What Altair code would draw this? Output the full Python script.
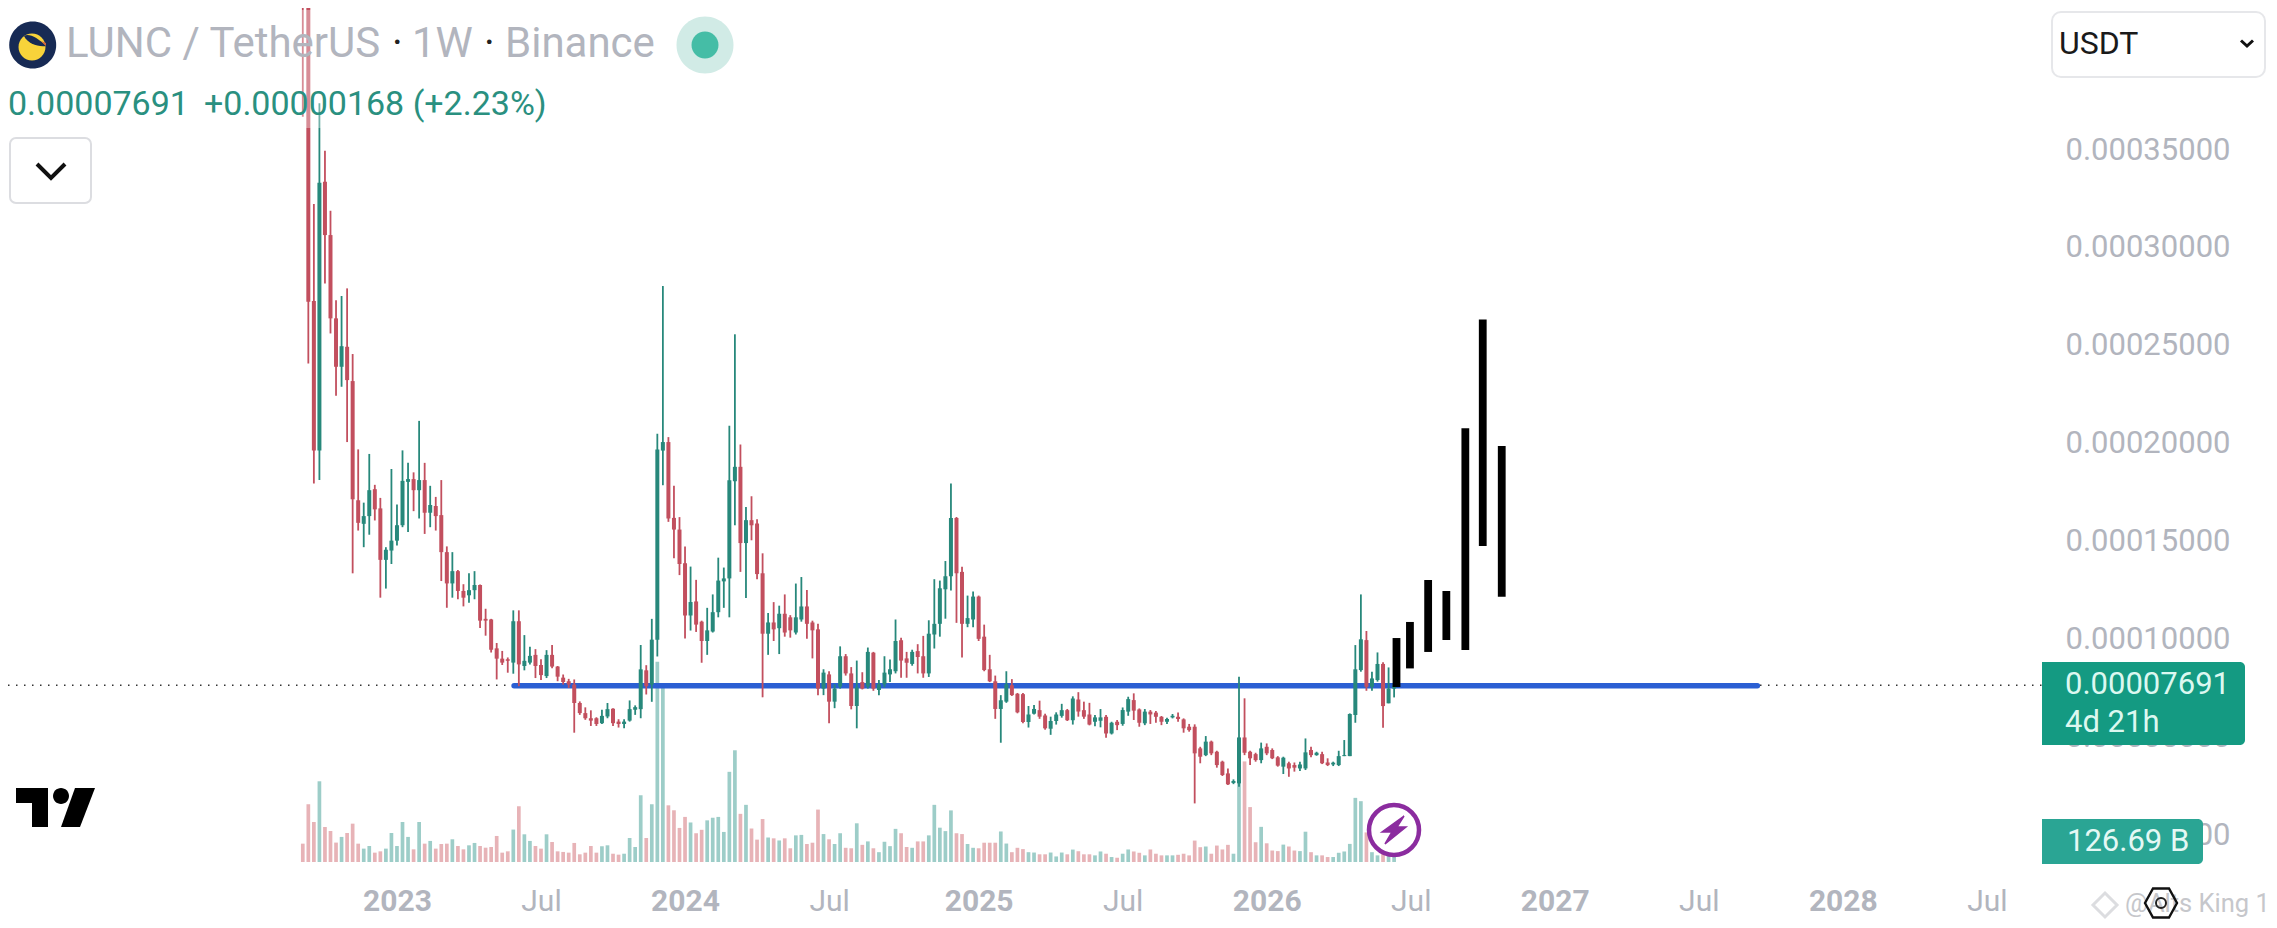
import altair as alt
import pandas as pd

# Prices in units of 0.00001 USDT; volumes in billions.
opens = [48.0,45.0,27.3,19.69,33.38,30.66,26.41,23.94,24.96,23.21,
 17.18,15.99,16.38,17.74,16.77,14.17,14.64,15.14,15.92,18.11,
 18.25,17.69,18.2,16.55,16.89,16.43,14.56,12.98,13.6,12.6,
 12.38,12.64,12.9,11.19,11.16,9.7,9.18,9.15,8.98,11.07,
 8.81,8.98,9.37,8.86,8.3,9.37,8.78,8.22,8.04,7.87,
 6.94,6.43,6.17,6.17,5.92,6.26,6.65,6.0,5.88,6.05,
 6.6,6.63,8.59,7.87,10.14,19.69,20.12,16.29,15.7,14.0,
 11.36,12.07,11.08,10.1,10.58,11.56,13.12,13.27,18.19,18.92,
 15.06,16.22,16.05,13.53,10.47,11.04,10.75,11.48,11.3,10.53,
 11.19,11.85,11.04,10.69,7.69,8.41,7.03,7.8,9.33,8.46,
 6.81,8.02,7.8,9.51,7.62,7.91,8.41,8.57,10.14,9.22,
 8.94,9.59,9.33,8.46,10.43,10.97,12.72,13.38,16.33,13.6,
 10.97,11.19,12.35,10.32,8.67,8.06,6.66,7.03,7.86,7.43,
 7.41,6.0,6.42,6.6,6.33,5.66,6.05,6.31,6.6,6.09,
 7.14,6.6,6.38,5.98,6.03,6.23,5.39,5.98,5.87,6.49,
 7.07,6.6,5.9,6.49,6.44,6.23,5.98,6.2,6.23,6.1,
 5.73,5.73,4.64,4.3,4.98,4.47,3.97,3.38,2.9,2.88,
 5.19,4.47,4.35,4.05,4.72,4.56,4.19,3.72,3.89,3.8,
 3.63,3.63,4.56,4.3,4.35,3.93,3.83,3.8,4.25,4.25,
 6.32,8.58,10.09,7.74,8.08,8.89,6.77,7.52]
closes = [45.0,27.26,19.69,33.33,30.66,26.41,23.94,24.99,23.26,17.23,
 16.04,16.38,17.69,16.72,14.17,14.68,15.14,15.92,18.16,18.25,
 17.69,18.2,16.55,16.94,16.38,14.56,12.98,13.6,12.6,12.26,
 12.64,12.9,11.1,11.1,9.63,9.18,8.98,9.07,11.07,8.89,
 9.07,9.32,8.81,8.35,9.37,8.78,8.27,8.0,7.87,6.94,
 6.43,6.17,6.05,5.88,6.29,6.63,5.92,5.88,6.0,6.63,
 6.73,8.64,7.79,10.14,19.75,20.12,16.26,15.7,13.96,11.36,
 12.04,10.9,10.1,10.64,11.56,13.16,13.27,18.24,18.92,15.06,
 16.22,15.96,13.49,10.47,11.04,10.69,11.48,10.53,10.64,11.3,
 11.85,10.97,10.64,7.69,8.5,7.03,7.69,9.33,8.46,6.81,
 7.75,7.69,9.55,7.69,7.91,8.5,8.67,10.1,9.11,9.0,
 9.55,9.29,8.46,10.47,10.97,12.77,13.38,16.33,13.53,10.97,
 11.26,12.35,10.21,8.63,8.06,6.66,7.1,7.91,7.36,6.49,
 6.0,6.38,6.66,6.27,5.68,6.05,6.38,6.6,6.09,7.19,
 6.53,6.27,5.87,6.2,6.2,5.39,5.93,5.81,6.57,7.12,
 6.54,5.93,6.49,6.35,6.23,5.98,6.12,6.28,6.12,5.65,
 5.56,4.39,4.22,4.98,4.39,3.8,3.3,2.83,3.0,5.19,
 4.42,4.14,4.05,4.64,4.39,4.14,3.77,4.17,3.63,3.67,
 3.83,4.44,4.3,4.42,3.89,3.8,3.92,4.25,4.3,6.37,
 8.62,10.13,7.74,8.16,8.89,6.77,7.52,7.69]
highs = [50.0,50.0,32.24,37.38,34.96,31.9,27.34,27.55,27.94,24.59,
 19.75,17.06,19.52,17.96,17.3,14.81,18.76,16.97,19.7,19.07,
 18.59,21.19,19.07,17.91,17.35,18.2,14.85,14.56,13.66,12.94,
 13.49,13.6,12.93,11.7,11.19,9.97,9.57,9.24,11.62,11.62,
 10.37,9.78,9.66,9.15,9.61,9.87,8.81,8.38,8.16,8.13,
 7.02,6.72,6.57,6.22,6.6,6.94,6.68,6.12,6.12,7.07,
 6.82,9.87,8.85,11.19,20.54,28.06,20.37,17.91,16.33,14.85,
 13.83,13.16,11.13,11.78,12.46,14.32,13.82,21.0,25.63,20.05,
 16.88,17.43,16.27,14.54,11.52,12.07,11.89,12.46,11.41,13.01,
 13.34,12.68,11.13,10.97,8.67,8.57,7.91,9.83,9.44,8.78,
 9.11,8.52,9.77,9.55,8.13,9.33,9.16,11.19,10.27,9.55,
 9.66,9.94,10.36,11.15,13.23,13.16,14.15,18.08,16.38,13.86,
 12.4,12.61,12.4,10.93,9.4,8.35,7.36,8.57,8.17,7.47,
 7.47,6.81,6.86,7.08,6.42,6.27,6.49,6.92,6.66,7.3,
 7.51,7.03,6.97,6.32,6.62,6.32,5.98,6.07,6.7,7.24,
 7.41,6.65,6.62,6.57,6.52,6.27,6.18,6.37,6.45,6.15,
 5.87,5.85,4.72,5.26,5.03,4.52,4.02,3.63,3.08,8.25,
 7.16,4.52,4.42,4.93,4.89,4.64,4.25,4.22,3.97,3.93,
 3.97,5.14,4.72,4.47,4.47,4.14,3.97,4.52,5.06,6.4,
 9.84,12.39,10.55,8.5,9.47,8.97,8.6,8.05]
lows = [36.7,24.11,18.03,18.2,28.19,25.64,22.46,22.92,20.12,13.49,
 15.65,14.81,15.44,16.16,12.26,12.72,13.96,14.9,15.82,15.58,
 16.63,16.26,15.48,15.82,15.65,13.1,11.75,12.26,12.18,11.82,
 12.0,12.18,10.73,10.34,9.49,8.13,8.86,8.47,8.42,7.79,
 8.59,8.89,8.2,8.1,8.2,8.69,8.04,7.87,7.7,5.44,
 6.34,6.09,5.78,5.78,5.88,6.17,5.78,5.7,5.66,6.0,
 6.34,6.17,7.37,7.0,9.29,17.94,16.09,14.25,13.4,10.2,
 10.6,10.53,9.0,9.4,10.53,11.3,11.78,11.3,15.96,13.6,
 12.28,15.2,13.23,7.25,9.4,10.1,9.44,10.32,10.27,10.43,
 11.08,10.21,9.22,7.36,7.36,5.94,6.7,7.69,8.35,6.64,
 5.68,7.65,7.69,7.58,7.36,7.76,8.02,8.46,8.24,8.24,
 8.85,8.46,8.24,8.28,9.72,10.32,11.23,12.66,11.02,9.27,
 10.8,10.8,10.1,8.57,8.02,6.16,4.95,6.97,7.32,6.44,
 5.94,5.72,6.38,6.16,5.61,5.35,5.87,6.22,6.05,5.87,
 6.27,6.16,5.83,5.76,5.7,5.18,5.34,5.56,5.78,6.28,
 6.07,5.73,5.81,5.87,5.93,5.81,5.87,6.15,5.98,5.43,
 5.48,1.87,3.89,4.25,4.3,3.67,3.25,2.8,2.84,2.71,
 4.3,3.8,3.97,3.89,4.3,4.1,3.72,3.35,3.21,3.47,
 3.5,3.55,4.19,4.27,3.85,3.75,3.75,3.75,4.25,4.25,
 5.93,8.5,7.54,7.54,8.0,5.68,6.77,7.07]
volumes = [155,488,338,682,296,262,164,212,245,324,
 155,113,135,79,90,113,245,135,338,212,
 107,338,155,178,113,152,155,192,135,107,
 141,161,135,121,127,220,79,90,274,471,
 234,178,135,113,234,169,90,85,79,161,
 65,79,135,79,133,141,70,62,70,203,
 127,564,203,488,1692,1509,479,437,288,381,
 334,243,272,352,374,381,254,762,944,407,
 483,283,189,363,207,200,182,200,116,225,
 229,152,163,443,236,192,152,243,120,116,
 327,145,174,116,83,171,134,280,243,127,
 120,174,174,225,483,290,261,436,243,236,
 152,120,116,163,163,163,258,156,83,120,
 109,83,80,65,65,80,47,80,65,105,
 91,65,65,56,89,70,42,36,70,106,
 89,78,56,106,70,56,56,56,61,70,
 56,181,125,131,70,139,106,145,70,900,
 850,464,167,297,158,97,92,147,131,97,
 92,256,83,56,56,42,42,78,89,153,
 542,514,250,83,56,180,150,126.69]

# Hand-drawn black bars
drawn_dates = ["2026-06-18","2026-07-05","2026-07-28","2026-08-20","2026-09-13","2026-10-05","2026-10-29"]
drawn_top = [10.1,10.92,13.06,12.5,20.8,26.35,19.9]
drawn_bottom = [7.6,8.55,9.39,10.0,9.49,14.8,12.2]

# Hand-drawn blue support line
support_dates = ["2023-05-30","2027-09-17"]
support_price = [7.67,7.67]

last_price = 7.691
price_ticks = [0,5,10,15,20,25,30,35]
time_ticks = [(2023,1,2),(2023,7,3),(2024,1,1),(2024,7,1),(2025,1,6),(2025,7,7),
              (2026,1,5),(2026,7,6),(2027,1,4),(2027,7,5),(2028,1,3),(2028,7,3)]

UNIT = 1e-5
UP, DOWN = "#27887b", "#c24f5e"
VUP, VDOWN = "#9dcdc8", "#e7b3b7"
GREY = "#b2b5be"
FONT = "Roboto"


def read(values):
    """Small correction of the ruler used for each stretch of readings."""
    out = []
    for i, v in enumerate(values):
        if 2 <= i <= 71:
            v = v - 0.0101 * max(0.0, 22.245 - v)
        elif 72 <= i <= 142:
            v = v - 0.0077 * (29.9 - v)
        elif 143 <= i <= 195:
            v = v - 0.0136 * (17.14 - v)
        out.append(v * UNIT)
    return out


df = pd.DataFrame({
    "t": pd.date_range("2022-09-05", periods=len(opens), freq="7D"),
    "o": read(opens), "c": read(closes), "h": read(highs), "l": read(lows),
    "v": volumes,
})
df["dir"] = ["up" if c >= o else "down" for o, c in zip(opens, closes)]
drawn = pd.DataFrame({"t": pd.to_datetime(drawn_dates),
                      "a": [v * UNIT for v in drawn_top], "b": [v * UNIT for v in drawn_bottom]})
support = pd.DataFrame({"t": pd.to_datetime(support_dates), "p": [v * UNIT for v in support_price]})
one = pd.DataFrame({"a": [0]})

PW, PH = 2034, 854
xscale = alt.Scale(domain=["2021-08-28T12:00:00", "2028-09-10T16:00:00"])
yscale = alt.Scale(domain=[-1.327 * UNIT, 42.245 * UNIT], nice=False, zero=False)
vscale = alt.Scale(domain=[0, 7216], nice=False, zero=False)

x_axis = alt.Axis(
    values=[alt.DateTime(year=y, month=m, date=d) for y, m, d in time_ticks],
    labelExpr="month(datum.value)==0 ? timeFormat(datum.value,'%Y') : 'Jul'",
    labelFont=FONT, labelFontSize=30, labelColor=GREY, labelPadding=24,
    labelFontWeight={"condition": {"test": "month(datum.value)==0", "value": 700}, "value": 400},
    labelOverlap=False, labelFlush=False, domain=False, ticks=False, grid=False, title=None,
)
X = alt.X("t:T", scale=xscale, axis=x_axis)
y_axis = alt.Axis(
    orient="right", values=[v * UNIT for v in price_ticks], format=".8f",
    labelFont=FONT, labelFontSize=31, labelColor=GREY, labelPadding=23, labelAlign="left",
    labelOverlap=False, domain=False, ticks=False, grid=False, title=None,
)
dirscale = alt.Scale(domain=["up", "down"], range=[UP, DOWN])
vdirscale = alt.Scale(domain=["up", "down"], range=[VUP, VDOWN])

base = alt.Chart(df)
volume = base.mark_rule(strokeWidth=3.7, clip=True).encode(
    x=X, y=alt.Y("v:Q", scale=vscale, axis=None), y2=alt.value(PH),
    color=alt.Color("dir:N", scale=vdirscale, legend=None))
dotted = alt.Chart(one).mark_rule(stroke="#333333", strokeWidth=1.3, strokeDash=[1.5, 6.5]).encode(
    x=alt.value(0), x2=alt.value(PW),
    y=alt.YDatum(last_price * UNIT, scale=yscale, axis=y_axis))
line = alt.Chart(support).mark_line(color="#2b5fd3", strokeWidth=5.5, strokeCap="round").encode(
    x=X, y=alt.Y("p:Q", scale=yscale, axis=None))
wick = base.mark_rule(strokeWidth=1.8, clip=True).encode(
    x=X, y=alt.Y("h:Q", scale=yscale, axis=None), y2="l:Q",
    color=alt.Color("dir:N", scale=dirscale, legend=None))
body = base.mark_rule(strokeWidth=4, clip=True).encode(
    x=X, y=alt.Y("o:Q", scale=yscale, axis=None), y2="c:Q",
    color=alt.Color("dir:N", scale=dirscale, legend=None))
black = alt.Chart(drawn).mark_rule(strokeWidth=7.8, color="#000000").encode(
    x=X, y=alt.Y("a:Q", scale=yscale, axis=None), y2="b:Q")


def L(v):
    return v - 8


def box(x0, x1, y0, y1, **kw):
    return alt.Chart(one).mark_rect(**kw).encode(
        x=alt.value(L(x0)), x2=alt.value(L(x1)), y=alt.value(L(y0)), y2=alt.value(L(y1)))


def text(s, x, y, size, color, **kw):
    return alt.Chart(one).mark_text(text=s, font=FONT, fontSize=size, color=color, align="left",
                                    baseline="middle", **kw).encode(
        x=alt.value(L(x)), y=alt.value(L(y)))


def shape(path, x, y, fill=None, stroke=None, sw=0, **kw):
    # size 4 makes one path unit equal to one pixel
    args = dict(shape=path, size=4, opacity=1)
    if fill:
        args.update(filled=True, fill=fill)
    else:
        args.update(filled=False, fill="transparent")
    if stroke:
        args.update(stroke=stroke, strokeWidth=sw)
    args.update(kw)
    return alt.Chart(one).mark_point(**args).encode(x=alt.value(L(x)), y=alt.value(L(y)))


def circle(x, y, d, **kw):
    r = d / 2
    p = f"M{-r},0 A{r},{r} 0 1,0 {r},0 A{r},{r} 0 1,0 {-r},0 Z"
    return shape(p, x, y, **kw)


TITLE = "#b2b5be"
TEAL = "#2a9080"
chrome = [
    box(8, 560, 10, 128, fill="#ffffff", opacity=0.35),
    # logo
    circle(32.7, 45, 47, fill="#172a54"),
    circle(32, 47, 27, fill="#f8d33a"),
    shape("M-9,-9 C-4,-12 5,-7 13,1 C 5,2 -5,-1 -9,-9 Z", 33, 45, fill="#172a54"),
    shape("M8,-4 L13,-2 L13,1 Z", 33, 45, fill="#d5603a"),
    # legend
    text("LUNC / TetherUS", 66, 44, 42, TITLE),
    text("·", 392, 44, 41, "#222222"),
    text("1W", 412, 44, 42, TITLE),
    text("·", 484, 44, 41, "#222222"),
    text("Binance", 505, 44, 42, TITLE),
    circle(705, 45, 57, fill="#d1ebe6"),
    circle(705, 45, 27, fill="#45bda6"),
    text("0.00007691", 8, 105, 34, TEAL),
    text("+0.00000168 (+2.23%)", 204, 105, 34, TEAL),
    # collapse button
    box(10, 91, 138, 203, fill="#ffffff", stroke="#dcdde1", strokeWidth=2, cornerRadius=6),
    shape("M-14,-7 L0,7 L14,-7", 51, 171, stroke="#111111", sw=4),
    # currency select
    box(2052, 2265, 12, 77, fill="#ffffff", stroke="#e6e7ea", strokeWidth=2, cornerRadius=9),
    text("USDT", 2059, 44, 32, "#1a1a1a"),
    shape("M-6,-2.5 L0,3 L6,-2.5", 2247, 43, stroke="#111111", sw=3),
    # price and volume labels
    box(2042, 2245, 662, 745, fill="#149a82", cornerRadiusTopRight=5, cornerRadiusBottomRight=5),
    text("0.00007691", 2065, 685, 31, "#dcf8f0"),
    text("4d 21h", 2065, 723, 31, "#dcf8f0"),
    box(2042, 2203, 819, 864, fill="#2aa594", cornerRadiusTopRight=5, cornerRadiusBottomRight=5),
    text("126.69 B", 2067, 842, 31, "#e4f8f4"),
    # TradingView mark
    shape("M-40,-19.5 L-8,-19.5 L-8,19.5 L-24,19.5 L-24,-4.5 L-40,-4.5 Z", 56, 807.5, fill="#000000"),
    circle(61, 796, 16, fill="#000000"),
    shape("M19,-19.5 L39,-19.5 L24,19.5 L5,19.5 Z", 56, 807.5, fill="#000000"),
    # lightning badge
    circle(1394, 830, 50, fill="#ffffff", stroke="#8b2c9f", sw=4.5),
    shape("M10,-14 L-12,2 L-2,2 L-9,14 L12,-3 L3,-3 Z", 1394, 830, fill="#8b2c9f", stroke="#8b2c9f", sw=1.5),
    # watermark
    shape("M0,-12 L12,0 L0,12 L-12,0 Z", 2105, 905, stroke="#dcdde0", sw=3),
    text("@Alts King 1", 2125, 904, 25.5, "#c6c7cb"),
    shape("M-16,0 L-8,-14.5 L8,-14.5 L16,0 L8,14.5 L-8,14.5 Z", 2161, 903, stroke="#111111", sw=2.4),
    circle(2161, 903, 10, stroke="#222222", sw=2),
]

chart = alt.layer(dotted, volume, line, wick, body, black, *chrome).resolve_scale(
    y="independent", color="independent"
).properties(
    width=PW, height=PH, background="#ffffff",
    autosize=alt.AutoSizeParams(type="none"),
    padding={"left": 0, "top": 0, "right": 227, "bottom": 58},
).configure_view(stroke=None)

chart.save("out.html", embed_options={"renderer": "svg", "actions": False})
